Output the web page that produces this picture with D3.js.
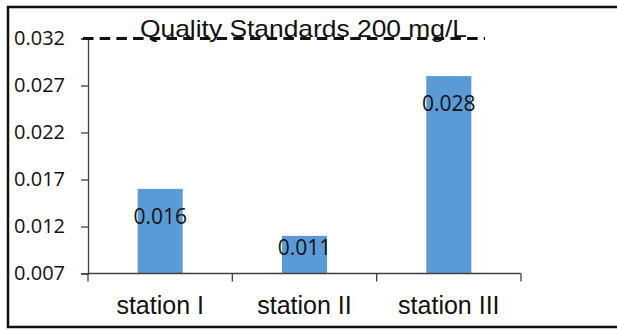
<!DOCTYPE html>
<html>
<head>
<meta charset="utf-8">
<script src="https://cdn.jsdelivr.net/npm/d3@7"></script>
<style>
  body { margin: 0; background: #fff; }
</style>
</head>
<body>
<div id="chart"></div>
<script>
// station values
var stations = ["station I", "station II", "station III"];
var values = [0.016, 0.011, 0.028];
var yTicks = [0.007, 0.012, 0.017, 0.022, 0.027, 0.032];
var standardValue = 0.032;
var standardLabel = "Quality Standards 200 mg/L";

var width = 617;
var height = 330;

var svg = d3.select("#chart").append("svg")
    .attr("width", width)
    .attr("height", height);

// frame (open on the right side like the original)
svg.append("path")
    .attr("d", "M617,7H8V327H617")
    .attr("fill", "none")
    .attr("stroke", "#111")
    .attr("stroke-width", 2.5);

var x = d3.scaleBand()
    .domain(stations)
    .range([88, 521])
    .paddingInner(0.688)
    .paddingOuter(0.344);

var y = d3.scaleLinear()
    .domain([0.007, 0.032])
    .range([273.5, 38.5]);

var axisColor = "#404040";

// y axis
var yAxis = svg.append("g")
    .attr("transform", "translate(88,0)")
    .call(d3.axisLeft(y).tickValues(yTicks).tickFormat(d3.format(".3f")).tickSize(7).tickPadding(16));
yAxis.select(".domain").attr("stroke", axisColor).attr("stroke-width", 1.3);
yAxis.selectAll(".tick line").attr("stroke", axisColor).attr("stroke-width", 1.3);
yAxis.selectAll("text")
    .attr("font-family", "'Open Sans', sans-serif")
    .attr("font-size", 20)
    .attr("fill", "#111");

// bars
svg.append("g").selectAll("rect")
    .data(values)
    .join("rect")
    .attr("x", (d, i) => x(stations[i]))
    .attr("width", x.bandwidth())
    .attr("y", d => y(d))
    .attr("height", d => y(0.007) - y(d))
    .attr("fill", "#5B9BD5");

// value labels
svg.append("g").selectAll("text")
    .data(values)
    .join("text")
    .attr("x", (d, i) => x(stations[i]) + x.bandwidth() / 2)
    .attr("y", d => Math.min(y(d) + 35, y(0.007) - 19))
    .attr("text-anchor", "middle")
    .attr("font-family", "'Open Sans', sans-serif")
    .attr("font-size", 21)
    .attr("fill", "#111")
    .text(d => d3.format(".3f")(d));

// x axis with category separators
var step = x.step();
var xEdges = d3.range(stations.length + 1).map(i => 88 + i * step);
svg.append("line")
    .attr("x1", 88).attr("x2", 521)
    .attr("y1", y(0.007)).attr("y2", y(0.007))
    .attr("stroke", axisColor)
    .attr("stroke-width", 1.3);
svg.append("g").selectAll("line")
    .data(xEdges)
    .join("line")
    .attr("x1", d => d).attr("x2", d => d)
    .attr("y1", y(0.007)).attr("y2", y(0.007) + 8)
    .attr("stroke", axisColor)
    .attr("stroke-width", 1.3);
svg.append("g").selectAll("text")
    .data(stations)
    .join("text")
    .attr("x", d => x(d) + x.bandwidth() / 2)
    .attr("y", 314)
    .attr("text-anchor", "middle")
    .attr("font-family", "'Liberation Sans', Arial, sans-serif")
    .attr("font-size", 25)
    .attr("fill", "#111")
    .text(d => d);

// quality standard dashed line + label
svg.append("line")
    .attr("x1", 83).attr("x2", 485)
    .attr("y1", y(standardValue)).attr("y2", y(standardValue))
    .attr("stroke", "#111")
    .attr("stroke-width", 3)
    .attr("stroke-dasharray", "10.5,6.2");

svg.append("text")
    .attr("x", 140)
    .attr("y", 37)
    .attr("font-family", "'Liberation Sans', Arial, sans-serif")
    .attr("font-size", 24)
    .attr("fill", "#111")
    .attr("textLength", 327)
    .attr("lengthAdjust", "spacingAndGlyphs")
    .text(standardLabel);
</script>
</body>
</html>
